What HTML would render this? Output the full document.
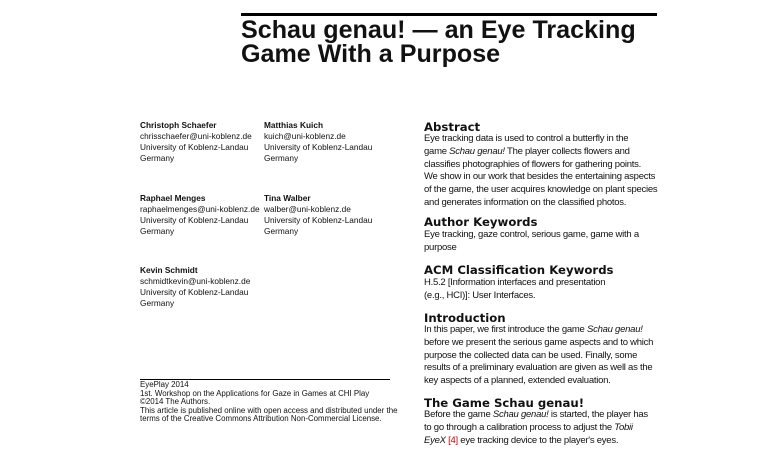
<!DOCTYPE html>
<html><head><meta charset="utf-8"><style>
body{margin:0;width:760px;height:449px;background:#fff;position:relative;overflow:hidden;font-family:"Liberation Sans",sans-serif;color:#111}
.a{position:absolute;white-space:nowrap}
.t{font-family:"Liberation Sans",sans-serif;font-weight:bold;font-size:25.1px;left:241px;line-height:24px}
.s{font-size:8.3px;line-height:11px}
.b{font-weight:bold}
.h{font-family:"DejaVu Sans",sans-serif;font-size:11.7px;font-weight:bold;left:424px}
.r{font-size:9.5px;letter-spacing:-0.25px;left:424px}
.f{font-size:7.9px;left:140px;line-height:8.6px}
</style></head><body>
<div class="a" style="left:241px;top:13px;width:416px;height:3px;background:#000"></div>
<div class="a t" style="top:18px">Schau genau! — an Eye Tracking<br>Game With a Purpose</div>

<div class="a s" style="left:140px;top:120px"><span class="b">Christoph Schaefer</span><br>chrisschaefer@uni-koblenz.de<br>University of Koblenz-Landau<br>Germany</div>
<div class="a s" style="left:264px;top:120px"><span class="b">Matthias Kuich</span><br>kuich@uni-koblenz.de<br>University of Koblenz-Landau<br>Germany</div>
<div class="a s" style="left:140px;top:193px"><span class="b">Raphael Menges</span><br>raphaelmenges@uni-koblenz.de<br>University of Koblenz-Landau<br>Germany</div>
<div class="a s" style="left:264px;top:193px"><span class="b">Tina Walber</span><br>walber@uni-koblenz.de<br>University of Koblenz-Landau<br>Germany</div>
<div class="a s" style="left:140px;top:265px"><span class="b">Kevin Schmidt</span><br>schmidtkevin@uni-koblenz.de<br>University of Koblenz-Landau<br>Germany</div>

<div class="a" style="left:140px;top:379px;width:250px;height:1px;background:#000"></div>
<div class="a f" style="top:381px">EyePlay 2014<br>1st. Workshop on the Applications for Gaze in Games at CHI Play<br>©2014 The Authors.<br>This article is published online with open access and distributed under the<br>terms of the Creative Commons Attribution Non-Commercial License.</div>

<div class="a h" style="top:120px">Abstract</div>
<div class="a r" style="top:133px;line-height:12.8px">Eye tracking data is used to control a butterfly in the<br>game <i>Schau genau!</i> The player collects flowers and<br>classifies photographies of flowers for gathering points.<br>We show in our work that besides the entertaining aspects<br>of the game, the user acquires knowledge on plant species<br>and generates information on the classified photos.</div>
<div class="a h" style="top:215px">Author Keywords</div>
<div class="a r" style="top:229px;line-height:12.8px">Eye tracking, gaze control, serious game, game with a<br>purpose</div>
<div class="a h" style="top:263px">ACM Classification Keywords</div>
<div class="a r" style="top:277px;line-height:12.8px">H.5.2 [Information interfaces and presentation<br>(e.g., HCI)]: User Interfaces.</div>
<div class="a h" style="top:311px">Introduction</div>
<div class="a r" style="top:324px;line-height:12.8px">In this paper, we first introduce the game <i>Schau genau!</i><br>before we present the serious game aspects and to which<br>purpose the collected data can be used. Finally, some<br>results of a preliminary evaluation are given as well as the<br>key aspects of a planned, extended evaluation.</div>
<div class="a h" style="top:396px">The Game Schau genau!</div>
<div class="a r" style="top:409px;line-height:12.8px">Before the game <i>Schau genau!</i> is started, the player has<br>to go through a calibration process to adjust the <i>Tobii</i><br><i>EyeX</i> <span style="color:#c00">[4]</span> eye tracking device to the player's eyes.</div>
</body></html>
